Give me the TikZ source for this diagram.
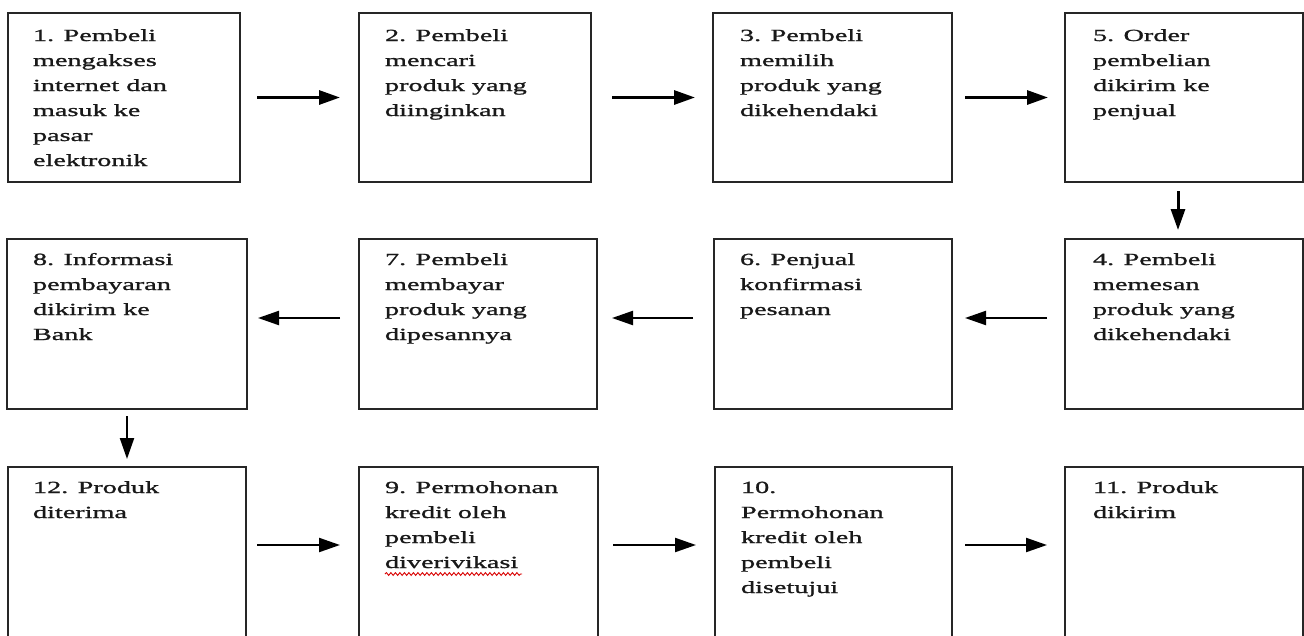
\documentclass[tikz,border=0pt]{standalone}
\usepackage{fontspec}
\setmainfont{Liberation Serif}
\newfontfamily\boxfont[FakeStretch=1.66,FakeBold=1.2]{Liberation Serif}
\usetikzlibrary{arrows.meta,decorations.pathmorphing}
\begin{document}
\begin{tikzpicture}[x=1pt,y=-1pt,
  box/.style={draw=black!85, line width=1.7pt, inner sep=0pt, outer sep=0pt, anchor=north west},
  txt/.style={anchor=base west, inner sep=0pt, outer sep=0pt, font=\boxfont\fontsize{17}{25}\selectfont, text=black!90},
  arrA/.style={line width=3pt, -{Triangle[length=21pt,width=14pt]}},
  arrB/.style={line width=2.2pt, -{Triangle[length=21pt,width=14pt]}},
  squig/.style={draw=red!85!black, line width=0.9pt, decorate, decoration={snake, amplitude=1.4pt, segment length=4.5pt}}
]
\clip (0,0) rectangle (1304,635);
\fill[white] (0,0) rectangle (1304,635);
% row 1
\node[box, minimum width=232pt, minimum height=169pt] (b1) at (8,13) {};
\node[box, minimum width=232pt, minimum height=169pt] (b2) at (359,13) {};
\node[box, minimum width=239pt, minimum height=169pt] (b3) at (713,13) {};
\node[box, minimum width=238pt, minimum height=169pt] (b5) at (1065,13) {};
% row 2
\node[box, minimum width=240pt, minimum height=170pt] (b8) at (7,239) {};
\node[box, minimum width=238pt, minimum height=170pt] (b7) at (359,239) {};
\node[box, minimum width=238pt, minimum height=170pt] (b6) at (714,239) {};
\node[box, minimum width=238pt, minimum height=170pt] (b4) at (1065,239) {};
% row 3
\node[box, minimum width=238pt, minimum height=200pt] (b12) at (8,467) {};
\node[box, minimum width=239pt, minimum height=200pt] (b9) at (359,467) {};
\node[box, minimum width=237pt, minimum height=200pt] (b10) at (715,467) {};
\node[box, minimum width=238pt, minimum height=200pt] (b11) at (1065,467) {};
% texts
\node[txt] (t1) at ([xshift=25pt,yshift=-28pt]b1.north west) {\vtop{\hbox{1. Pembeli}\hbox{mengakses}\hbox{internet dan}\hbox{masuk ke}\hbox{pasar}\hbox{elektronik}}};
\node[txt] (t2) at ([xshift=26pt,yshift=-28pt]b2.north west) {\vtop{\hbox{2. Pembeli}\hbox{mencari}\hbox{produk yang}\hbox{diinginkan}}};
\node[txt] (t3) at ([xshift=27pt,yshift=-28pt]b3.north west) {\vtop{\hbox{3. Pembeli}\hbox{memilih}\hbox{produk yang}\hbox{dikehendaki}}};
\node[txt] (t5) at ([xshift=28pt,yshift=-28pt]b5.north west) {\vtop{\hbox{5. Order}\hbox{pembelian}\hbox{dikirim ke}\hbox{penjual}}};
\node[txt] (t8) at ([xshift=26pt,yshift=-26pt]b8.north west) {\vtop{\hbox{8. Informasi}\hbox{pembayaran}\hbox{dikirim ke}\hbox{Bank}}};
\node[txt] (t7) at ([xshift=26pt,yshift=-26pt]b7.north west) {\vtop{\hbox{7. Pembeli}\hbox{membayar}\hbox{produk yang}\hbox{dipesannya}}};
\node[txt] (t6) at ([xshift=26pt,yshift=-26pt]b6.north west) {\vtop{\hbox{6. Penjual}\hbox{konfirmasi}\hbox{pesanan}}};
\node[txt] (t4) at ([xshift=28pt,yshift=-26pt]b4.north west) {\vtop{\hbox{4. Pembeli}\hbox{memesan}\hbox{produk yang}\hbox{dikehendaki}}};
\node[txt] (t12) at ([xshift=25pt,yshift=-26pt]b12.north west) {\vtop{\hbox{12. Produk}\hbox{diterima}}};
\node[txt] (t9) at ([xshift=26pt,yshift=-26pt]b9.north west) {\vtop{\hbox{9. Permohonan}\hbox{kredit oleh}\hbox{pembeli}\hbox{diverivikasi}}};
\node[txt] (t10) at ([xshift=26pt,yshift=-26pt]b10.north west) {\vtop{\hbox{10.}\hbox{Permohonan}\hbox{kredit oleh}\hbox{pembeli}\hbox{disetujui}}};
\node[txt] (t11) at ([xshift=28pt,yshift=-26pt]b11.north west) {\vtop{\hbox{11. Produk}\hbox{dikirim}}};
\draw[squig] ([yshift=-81pt]t9.base west) -- ++(137,0);
% arrows row 1
\draw[arrA, shorten <=17pt, shorten >=19pt] (b1.east) -- (b2.west);
\draw[arrA, shorten <=21pt, shorten >=18pt] (b2.east) -- (b3.west);
\draw[arrA, shorten <=13pt, shorten >=17pt] (b3.east) -- (b5.west);
\draw[arrA, shorten <=9pt, shorten >=9pt] ([xshift=-6pt]b5.south) -- ([xshift=-6pt]b4.north);
% row 2
\draw[arrB, shorten <=18pt, shorten >=13pt] ([yshift=6pt]b4.west) -- ([yshift=6pt]b6.east);
\draw[arrB, shorten <=21pt, shorten >=15pt] ([yshift=6pt]b6.west) -- ([yshift=6pt]b7.east);
\draw[arrB, shorten <=19pt, shorten >=11pt] ([yshift=6pt]b7.west) -- ([yshift=6pt]b8.east);
\draw[arrB, shorten <=7pt, shorten >=8pt] (b8.south) -- (b12.north);
% row 3
\draw[arrB, shorten <=11pt, shorten >=19pt] ([yshift=-78pt]b12.north east) -- ([yshift=-78pt]b9.north west);
\draw[arrB, shorten <=15pt, shorten >=19pt] ([yshift=-78pt]b9.north east) -- ([yshift=-78pt]b10.north west);
\draw[arrB, shorten <=13pt, shorten >=18pt] ([yshift=-78pt]b10.north east) -- ([yshift=-78pt]b11.north west);
\end{tikzpicture}
\end{document}
